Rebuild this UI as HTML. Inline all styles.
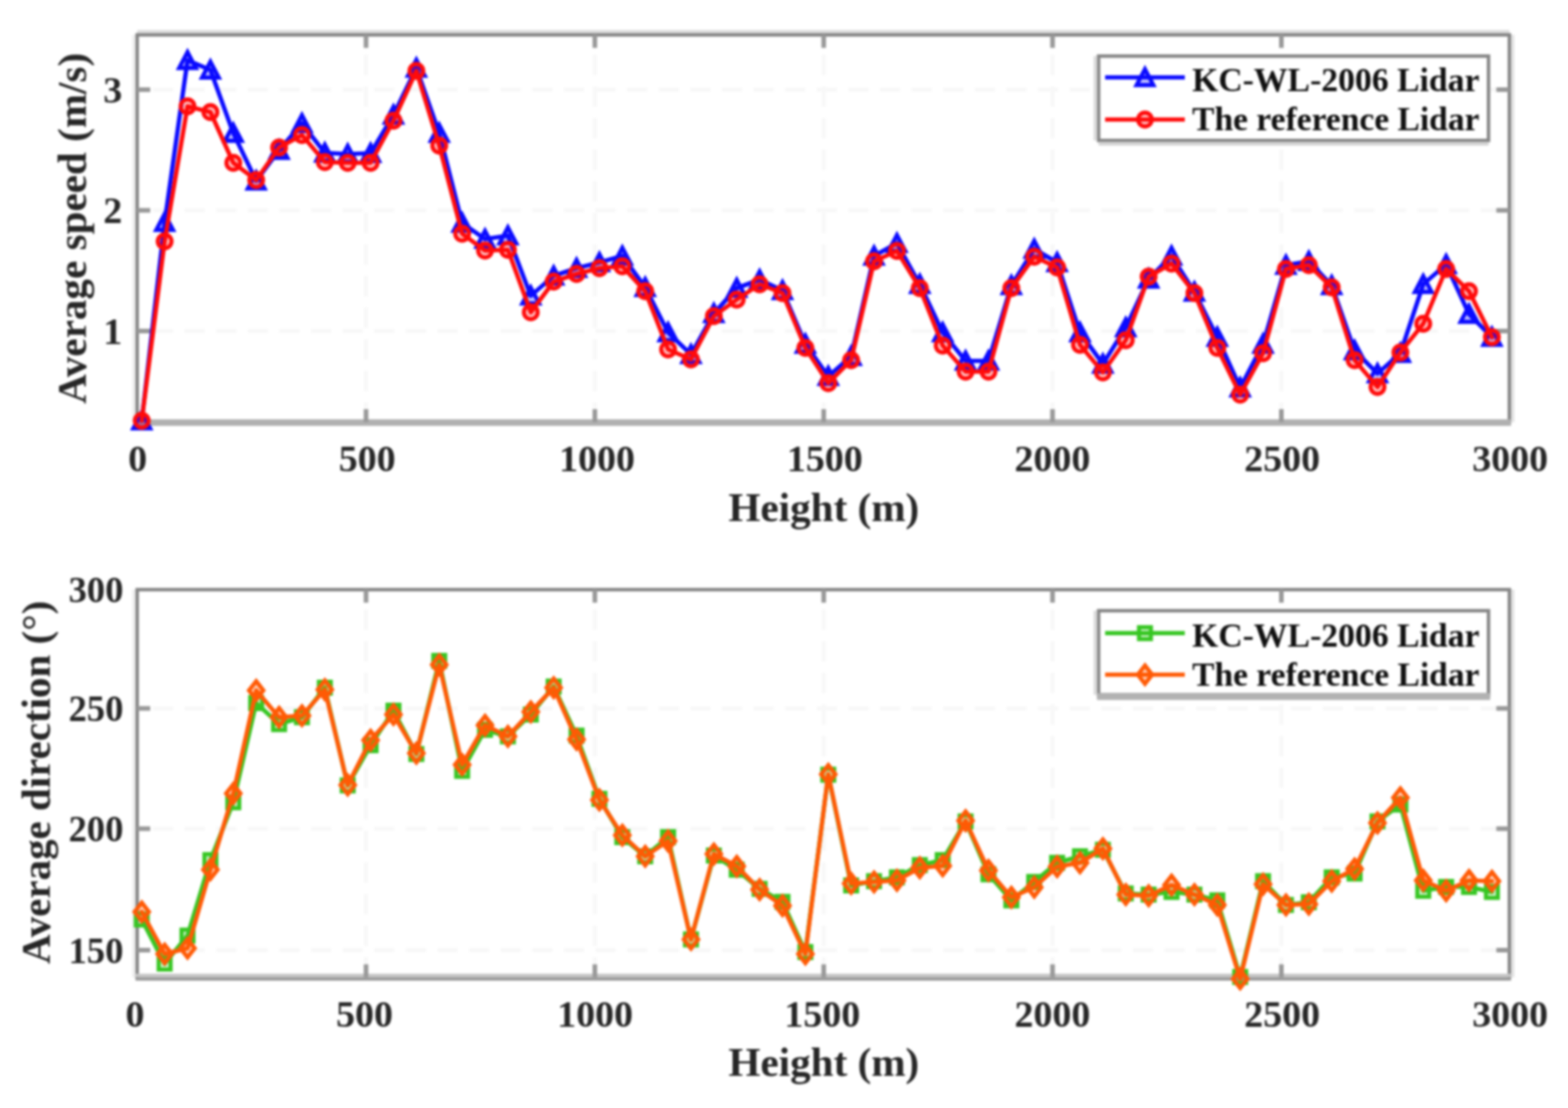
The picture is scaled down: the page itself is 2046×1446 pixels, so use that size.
<!DOCTYPE html>
<html lang="en">
<head>
<meta charset="utf-8">
<title>Average wind speed and direction versus height</title>
<style>
html, body { margin: 0; padding: 0; background: #ffffff; }
body { width: 2046px; height: 1446px; overflow: hidden; font-family: "Liberation Serif", "DejaVu Serif", serif; }
svg { display: block; filter: blur(1.8px); }
text { font-family: "Liberation Serif", "DejaVu Serif", serif; }
</style>
</head>
<body>
<svg width="2046" height="1446" viewBox="0 0 2046 1446" font-family='"Liberation Serif", "DejaVu Serif", serif'>
<rect width="2046" height="1446" fill="#ffffff"/>
<g id="speed-axes">
<line x1="477.6" y1="45.5" x2="477.6" y2="551" stroke="#f8f8f8" stroke-width="5.5" stroke-dasharray="26.5 14.75" stroke-dashoffset="15.2"/>
<line x1="776.2" y1="45.5" x2="776.2" y2="551" stroke="#f8f8f8" stroke-width="5.5" stroke-dasharray="26.5 14.75" stroke-dashoffset="15.2"/>
<line x1="1074.8" y1="45.5" x2="1074.8" y2="551" stroke="#f8f8f8" stroke-width="5.5" stroke-dasharray="26.5 14.75" stroke-dashoffset="15.2"/>
<line x1="1373.4" y1="45.5" x2="1373.4" y2="551" stroke="#f8f8f8" stroke-width="5.5" stroke-dasharray="26.5 14.75" stroke-dashoffset="15.2"/>
<line x1="1672" y1="45.5" x2="1672" y2="551" stroke="#f8f8f8" stroke-width="5.5" stroke-dasharray="26.5 14.75" stroke-dashoffset="15.2"/>
<line x1="179" y1="117" x2="1969.5" y2="117" stroke="#f8f8f8" stroke-width="5.5" stroke-dasharray="26.5 14.75" stroke-dashoffset="20.85"/>
<line x1="179" y1="274.5" x2="1969.5" y2="274.5" stroke="#f8f8f8" stroke-width="5.5" stroke-dasharray="26.5 14.75" stroke-dashoffset="20.85"/>
<line x1="179" y1="432" x2="1969.5" y2="432" stroke="#f8f8f8" stroke-width="5.5" stroke-dasharray="26.5 14.75" stroke-dashoffset="20.85"/>
<line x1="179" y1="41.3" x2="1969.5" y2="41.3" stroke="#dedede" stroke-width="4.5"/>
<line x1="1973.9" y1="45.5" x2="1973.9" y2="551" stroke="#e4e4e4" stroke-width="4.5"/>
<line x1="174.6" y1="45.5" x2="174.6" y2="551" stroke="#efefef" stroke-width="4.5"/>
<line x1="176.8" y1="45.5" x2="1971.7" y2="45.5" stroke="#858585" stroke-width="4.5"/>
<line x1="179" y1="45.5" x2="179" y2="553" stroke="#858585" stroke-width="4.5"/>
<line x1="1969.5" y1="45.5" x2="1969.5" y2="553" stroke="#858585" stroke-width="4.5"/>
<line x1="176.8" y1="551.5" x2="1971.7" y2="551.5" stroke="#b0b0b0" stroke-width="8.5"/>
<line x1="477.6" y1="551" x2="477.6" y2="534" stroke="#989898" stroke-width="6"/>
<line x1="477.6" y1="45.5" x2="477.6" y2="62.5" stroke="#989898" stroke-width="6"/>
<line x1="776.2" y1="551" x2="776.2" y2="534" stroke="#989898" stroke-width="6"/>
<line x1="776.2" y1="45.5" x2="776.2" y2="62.5" stroke="#989898" stroke-width="6"/>
<line x1="1074.8" y1="551" x2="1074.8" y2="534" stroke="#989898" stroke-width="6"/>
<line x1="1074.8" y1="45.5" x2="1074.8" y2="62.5" stroke="#989898" stroke-width="6"/>
<line x1="1373.4" y1="551" x2="1373.4" y2="534" stroke="#989898" stroke-width="6"/>
<line x1="1373.4" y1="45.5" x2="1373.4" y2="62.5" stroke="#989898" stroke-width="6"/>
<line x1="1672" y1="551" x2="1672" y2="534" stroke="#989898" stroke-width="6"/>
<line x1="1672" y1="45.5" x2="1672" y2="62.5" stroke="#989898" stroke-width="6"/>
<line x1="179" y1="117" x2="196" y2="117" stroke="#989898" stroke-width="6"/>
<line x1="1969.5" y1="117" x2="1952.5" y2="117" stroke="#989898" stroke-width="6"/>
<line x1="179" y1="274.5" x2="196" y2="274.5" stroke="#989898" stroke-width="6"/>
<line x1="1969.5" y1="274.5" x2="1952.5" y2="274.5" stroke="#989898" stroke-width="6"/>
<line x1="179" y1="432" x2="196" y2="432" stroke="#989898" stroke-width="6"/>
<line x1="1969.5" y1="432" x2="1952.5" y2="432" stroke="#989898" stroke-width="6"/>
</g>
<g id="speed-series">
<polyline points="184.97,549 214.83,290 244.69,78.75 274.55,91.25 304.41,173.75 334.27,236 364.13,196 393.99,161 423.85,199.5 453.71,201 483.57,200 513.43,150 543.29,88.75 573.15,173.75 603.01,291 632.87,312 662.73,307.5 692.59,386 722.45,360 752.31,350 782.17,342.5 812.03,334 841.89,375 871.75,434 901.61,462.5 931.47,409 961.33,376 991.19,365 1021.05,379 1050.91,449 1080.77,491 1110.63,465 1140.49,334 1170.35,317.5 1200.21,371 1230.07,434 1259.93,471 1289.79,471 1319.65,372.5 1349.51,325 1379.37,342.5 1409.23,434 1439.09,475 1468.95,427.5 1498.81,364 1528.67,334 1558.53,381 1588.39,440 1618.25,506 1648.11,449 1677.97,346 1707.83,341 1737.69,372.5 1767.55,457.5 1797.41,487.5 1827.27,461 1857.13,371 1886.99,345 1916.85,410 1946.71,440" fill="none" stroke="#0a0aff" stroke-width="5.6" stroke-linejoin="round" stroke-linecap="round"/>
<path d="M184.97 538.2L195.97 559L173.97 559Z" fill="#0a0aff" fill-opacity="0.25" stroke="#0a0aff" stroke-width="5.3" stroke-linejoin="miter"/>
<path d="M214.83 279.2L225.83 300L203.83 300Z" fill="#0a0aff" fill-opacity="0.25" stroke="#0a0aff" stroke-width="5.3" stroke-linejoin="miter"/>
<path d="M244.69 67.95L255.69 88.75L233.69 88.75Z" fill="#0a0aff" fill-opacity="0.25" stroke="#0a0aff" stroke-width="5.3" stroke-linejoin="miter"/>
<path d="M274.55 80.45L285.55 101.25L263.55 101.25Z" fill="#0a0aff" fill-opacity="0.25" stroke="#0a0aff" stroke-width="5.3" stroke-linejoin="miter"/>
<path d="M304.41 162.95L315.41 183.75L293.41 183.75Z" fill="#0a0aff" fill-opacity="0.25" stroke="#0a0aff" stroke-width="5.3" stroke-linejoin="miter"/>
<path d="M334.27 225.2L345.27 246L323.27 246Z" fill="#0a0aff" fill-opacity="0.25" stroke="#0a0aff" stroke-width="5.3" stroke-linejoin="miter"/>
<path d="M364.13 185.2L375.13 206L353.13 206Z" fill="#0a0aff" fill-opacity="0.25" stroke="#0a0aff" stroke-width="5.3" stroke-linejoin="miter"/>
<path d="M393.99 150.2L404.99 171L382.99 171Z" fill="#0a0aff" fill-opacity="0.25" stroke="#0a0aff" stroke-width="5.3" stroke-linejoin="miter"/>
<path d="M423.85 188.7L434.85 209.5L412.85 209.5Z" fill="#0a0aff" fill-opacity="0.25" stroke="#0a0aff" stroke-width="5.3" stroke-linejoin="miter"/>
<path d="M453.71 190.2L464.71 211L442.71 211Z" fill="#0a0aff" fill-opacity="0.25" stroke="#0a0aff" stroke-width="5.3" stroke-linejoin="miter"/>
<path d="M483.57 189.2L494.57 210L472.57 210Z" fill="#0a0aff" fill-opacity="0.25" stroke="#0a0aff" stroke-width="5.3" stroke-linejoin="miter"/>
<path d="M513.43 139.2L524.43 160L502.43 160Z" fill="#0a0aff" fill-opacity="0.25" stroke="#0a0aff" stroke-width="5.3" stroke-linejoin="miter"/>
<path d="M543.29 77.95L554.29 98.75L532.29 98.75Z" fill="#0a0aff" fill-opacity="0.25" stroke="#0a0aff" stroke-width="5.3" stroke-linejoin="miter"/>
<path d="M573.15 162.95L584.15 183.75L562.15 183.75Z" fill="#0a0aff" fill-opacity="0.25" stroke="#0a0aff" stroke-width="5.3" stroke-linejoin="miter"/>
<path d="M603.01 280.2L614.01 301L592.01 301Z" fill="#0a0aff" fill-opacity="0.25" stroke="#0a0aff" stroke-width="5.3" stroke-linejoin="miter"/>
<path d="M632.87 301.2L643.87 322L621.87 322Z" fill="#0a0aff" fill-opacity="0.25" stroke="#0a0aff" stroke-width="5.3" stroke-linejoin="miter"/>
<path d="M662.73 296.7L673.73 317.5L651.73 317.5Z" fill="#0a0aff" fill-opacity="0.25" stroke="#0a0aff" stroke-width="5.3" stroke-linejoin="miter"/>
<path d="M692.59 375.2L703.59 396L681.59 396Z" fill="#0a0aff" fill-opacity="0.25" stroke="#0a0aff" stroke-width="5.3" stroke-linejoin="miter"/>
<path d="M722.45 349.2L733.45 370L711.45 370Z" fill="#0a0aff" fill-opacity="0.25" stroke="#0a0aff" stroke-width="5.3" stroke-linejoin="miter"/>
<path d="M752.31 339.2L763.31 360L741.31 360Z" fill="#0a0aff" fill-opacity="0.25" stroke="#0a0aff" stroke-width="5.3" stroke-linejoin="miter"/>
<path d="M782.17 331.7L793.17 352.5L771.17 352.5Z" fill="#0a0aff" fill-opacity="0.25" stroke="#0a0aff" stroke-width="5.3" stroke-linejoin="miter"/>
<path d="M812.03 323.2L823.03 344L801.03 344Z" fill="#0a0aff" fill-opacity="0.25" stroke="#0a0aff" stroke-width="5.3" stroke-linejoin="miter"/>
<path d="M841.89 364.2L852.89 385L830.89 385Z" fill="#0a0aff" fill-opacity="0.25" stroke="#0a0aff" stroke-width="5.3" stroke-linejoin="miter"/>
<path d="M871.75 423.2L882.75 444L860.75 444Z" fill="#0a0aff" fill-opacity="0.25" stroke="#0a0aff" stroke-width="5.3" stroke-linejoin="miter"/>
<path d="M901.61 451.7L912.61 472.5L890.61 472.5Z" fill="#0a0aff" fill-opacity="0.25" stroke="#0a0aff" stroke-width="5.3" stroke-linejoin="miter"/>
<path d="M931.47 398.2L942.47 419L920.47 419Z" fill="#0a0aff" fill-opacity="0.25" stroke="#0a0aff" stroke-width="5.3" stroke-linejoin="miter"/>
<path d="M961.33 365.2L972.33 386L950.33 386Z" fill="#0a0aff" fill-opacity="0.25" stroke="#0a0aff" stroke-width="5.3" stroke-linejoin="miter"/>
<path d="M991.19 354.2L1002.19 375L980.19 375Z" fill="#0a0aff" fill-opacity="0.25" stroke="#0a0aff" stroke-width="5.3" stroke-linejoin="miter"/>
<path d="M1021.05 368.2L1032.05 389L1010.05 389Z" fill="#0a0aff" fill-opacity="0.25" stroke="#0a0aff" stroke-width="5.3" stroke-linejoin="miter"/>
<path d="M1050.91 438.2L1061.91 459L1039.91 459Z" fill="#0a0aff" fill-opacity="0.25" stroke="#0a0aff" stroke-width="5.3" stroke-linejoin="miter"/>
<path d="M1080.77 480.2L1091.77 501L1069.77 501Z" fill="#0a0aff" fill-opacity="0.25" stroke="#0a0aff" stroke-width="5.3" stroke-linejoin="miter"/>
<path d="M1110.63 454.2L1121.63 475L1099.63 475Z" fill="#0a0aff" fill-opacity="0.25" stroke="#0a0aff" stroke-width="5.3" stroke-linejoin="miter"/>
<path d="M1140.49 323.2L1151.49 344L1129.49 344Z" fill="#0a0aff" fill-opacity="0.25" stroke="#0a0aff" stroke-width="5.3" stroke-linejoin="miter"/>
<path d="M1170.35 306.7L1181.35 327.5L1159.35 327.5Z" fill="#0a0aff" fill-opacity="0.25" stroke="#0a0aff" stroke-width="5.3" stroke-linejoin="miter"/>
<path d="M1200.21 360.2L1211.21 381L1189.21 381Z" fill="#0a0aff" fill-opacity="0.25" stroke="#0a0aff" stroke-width="5.3" stroke-linejoin="miter"/>
<path d="M1230.07 423.2L1241.07 444L1219.07 444Z" fill="#0a0aff" fill-opacity="0.25" stroke="#0a0aff" stroke-width="5.3" stroke-linejoin="miter"/>
<path d="M1259.93 460.2L1270.93 481L1248.93 481Z" fill="#0a0aff" fill-opacity="0.25" stroke="#0a0aff" stroke-width="5.3" stroke-linejoin="miter"/>
<path d="M1289.79 460.2L1300.79 481L1278.79 481Z" fill="#0a0aff" fill-opacity="0.25" stroke="#0a0aff" stroke-width="5.3" stroke-linejoin="miter"/>
<path d="M1319.65 361.7L1330.65 382.5L1308.65 382.5Z" fill="#0a0aff" fill-opacity="0.25" stroke="#0a0aff" stroke-width="5.3" stroke-linejoin="miter"/>
<path d="M1349.51 314.2L1360.51 335L1338.51 335Z" fill="#0a0aff" fill-opacity="0.25" stroke="#0a0aff" stroke-width="5.3" stroke-linejoin="miter"/>
<path d="M1379.37 331.7L1390.37 352.5L1368.37 352.5Z" fill="#0a0aff" fill-opacity="0.25" stroke="#0a0aff" stroke-width="5.3" stroke-linejoin="miter"/>
<path d="M1409.23 423.2L1420.23 444L1398.23 444Z" fill="#0a0aff" fill-opacity="0.25" stroke="#0a0aff" stroke-width="5.3" stroke-linejoin="miter"/>
<path d="M1439.09 464.2L1450.09 485L1428.09 485Z" fill="#0a0aff" fill-opacity="0.25" stroke="#0a0aff" stroke-width="5.3" stroke-linejoin="miter"/>
<path d="M1468.95 416.7L1479.95 437.5L1457.95 437.5Z" fill="#0a0aff" fill-opacity="0.25" stroke="#0a0aff" stroke-width="5.3" stroke-linejoin="miter"/>
<path d="M1498.81 353.2L1509.81 374L1487.81 374Z" fill="#0a0aff" fill-opacity="0.25" stroke="#0a0aff" stroke-width="5.3" stroke-linejoin="miter"/>
<path d="M1528.67 323.2L1539.67 344L1517.67 344Z" fill="#0a0aff" fill-opacity="0.25" stroke="#0a0aff" stroke-width="5.3" stroke-linejoin="miter"/>
<path d="M1558.53 370.2L1569.53 391L1547.53 391Z" fill="#0a0aff" fill-opacity="0.25" stroke="#0a0aff" stroke-width="5.3" stroke-linejoin="miter"/>
<path d="M1588.39 429.2L1599.39 450L1577.39 450Z" fill="#0a0aff" fill-opacity="0.25" stroke="#0a0aff" stroke-width="5.3" stroke-linejoin="miter"/>
<path d="M1618.25 495.2L1629.25 516L1607.25 516Z" fill="#0a0aff" fill-opacity="0.25" stroke="#0a0aff" stroke-width="5.3" stroke-linejoin="miter"/>
<path d="M1648.11 438.2L1659.11 459L1637.11 459Z" fill="#0a0aff" fill-opacity="0.25" stroke="#0a0aff" stroke-width="5.3" stroke-linejoin="miter"/>
<path d="M1677.97 335.2L1688.97 356L1666.97 356Z" fill="#0a0aff" fill-opacity="0.25" stroke="#0a0aff" stroke-width="5.3" stroke-linejoin="miter"/>
<path d="M1707.83 330.2L1718.83 351L1696.83 351Z" fill="#0a0aff" fill-opacity="0.25" stroke="#0a0aff" stroke-width="5.3" stroke-linejoin="miter"/>
<path d="M1737.69 361.7L1748.69 382.5L1726.69 382.5Z" fill="#0a0aff" fill-opacity="0.25" stroke="#0a0aff" stroke-width="5.3" stroke-linejoin="miter"/>
<path d="M1767.55 446.7L1778.55 467.5L1756.55 467.5Z" fill="#0a0aff" fill-opacity="0.25" stroke="#0a0aff" stroke-width="5.3" stroke-linejoin="miter"/>
<path d="M1797.41 476.7L1808.41 497.5L1786.41 497.5Z" fill="#0a0aff" fill-opacity="0.25" stroke="#0a0aff" stroke-width="5.3" stroke-linejoin="miter"/>
<path d="M1827.27 450.2L1838.27 471L1816.27 471Z" fill="#0a0aff" fill-opacity="0.25" stroke="#0a0aff" stroke-width="5.3" stroke-linejoin="miter"/>
<path d="M1857.13 360.2L1868.13 381L1846.13 381Z" fill="#0a0aff" fill-opacity="0.25" stroke="#0a0aff" stroke-width="5.3" stroke-linejoin="miter"/>
<path d="M1886.99 334.2L1897.99 355L1875.99 355Z" fill="#0a0aff" fill-opacity="0.25" stroke="#0a0aff" stroke-width="5.3" stroke-linejoin="miter"/>
<path d="M1916.85 399.2L1927.85 420L1905.85 420Z" fill="#0a0aff" fill-opacity="0.25" stroke="#0a0aff" stroke-width="5.3" stroke-linejoin="miter"/>
<path d="M1946.71 429.2L1957.71 450L1935.71 450Z" fill="#0a0aff" fill-opacity="0.25" stroke="#0a0aff" stroke-width="5.3" stroke-linejoin="miter"/>
<polyline points="184.97,549 214.83,315 244.69,138.75 274.55,146.25 304.41,212.5 334.27,235 364.13,192.5 393.99,176.25 423.85,211.5 453.71,212.5 483.57,212.5 513.43,157.5 543.29,92.5 573.15,190 603.01,305 632.87,327 662.73,326 692.59,407.5 722.45,367.5 752.31,357.5 782.17,350 812.03,347.5 841.89,380 871.75,456 901.61,469 931.47,412.5 961.33,391 991.19,371 1021.05,382.5 1050.91,454 1080.77,500 1110.63,470 1140.49,341 1170.35,327.5 1200.21,376 1230.07,451 1259.93,485 1289.79,485 1319.65,376 1349.51,335 1379.37,349 1409.23,450 1439.09,486 1468.95,444 1498.81,361 1528.67,344 1558.53,382.5 1588.39,454 1618.25,515 1648.11,461 1677.97,351 1707.83,346 1737.69,375 1767.55,470 1797.41,505 1827.27,460 1857.13,422.5 1886.99,351 1916.85,380 1946.71,440" fill="none" stroke="#ff0a0a" stroke-width="5.6" stroke-linejoin="round" stroke-linecap="round"/>
<circle cx="184.97" cy="549" r="9" fill="#ff0a0a" fill-opacity="0.25" stroke="#ff0a0a" stroke-width="5.3"/>
<circle cx="214.83" cy="315" r="9" fill="#ff0a0a" fill-opacity="0.25" stroke="#ff0a0a" stroke-width="5.3"/>
<circle cx="244.69" cy="138.75" r="9" fill="#ff0a0a" fill-opacity="0.25" stroke="#ff0a0a" stroke-width="5.3"/>
<circle cx="274.55" cy="146.25" r="9" fill="#ff0a0a" fill-opacity="0.25" stroke="#ff0a0a" stroke-width="5.3"/>
<circle cx="304.41" cy="212.5" r="9" fill="#ff0a0a" fill-opacity="0.25" stroke="#ff0a0a" stroke-width="5.3"/>
<circle cx="334.27" cy="235" r="9" fill="#ff0a0a" fill-opacity="0.25" stroke="#ff0a0a" stroke-width="5.3"/>
<circle cx="364.13" cy="192.5" r="9" fill="#ff0a0a" fill-opacity="0.25" stroke="#ff0a0a" stroke-width="5.3"/>
<circle cx="393.99" cy="176.25" r="9" fill="#ff0a0a" fill-opacity="0.25" stroke="#ff0a0a" stroke-width="5.3"/>
<circle cx="423.85" cy="211.5" r="9" fill="#ff0a0a" fill-opacity="0.25" stroke="#ff0a0a" stroke-width="5.3"/>
<circle cx="453.71" cy="212.5" r="9" fill="#ff0a0a" fill-opacity="0.25" stroke="#ff0a0a" stroke-width="5.3"/>
<circle cx="483.57" cy="212.5" r="9" fill="#ff0a0a" fill-opacity="0.25" stroke="#ff0a0a" stroke-width="5.3"/>
<circle cx="513.43" cy="157.5" r="9" fill="#ff0a0a" fill-opacity="0.25" stroke="#ff0a0a" stroke-width="5.3"/>
<circle cx="543.29" cy="92.5" r="9" fill="#ff0a0a" fill-opacity="0.25" stroke="#ff0a0a" stroke-width="5.3"/>
<circle cx="573.15" cy="190" r="9" fill="#ff0a0a" fill-opacity="0.25" stroke="#ff0a0a" stroke-width="5.3"/>
<circle cx="603.01" cy="305" r="9" fill="#ff0a0a" fill-opacity="0.25" stroke="#ff0a0a" stroke-width="5.3"/>
<circle cx="632.87" cy="327" r="9" fill="#ff0a0a" fill-opacity="0.25" stroke="#ff0a0a" stroke-width="5.3"/>
<circle cx="662.73" cy="326" r="9" fill="#ff0a0a" fill-opacity="0.25" stroke="#ff0a0a" stroke-width="5.3"/>
<circle cx="692.59" cy="407.5" r="9" fill="#ff0a0a" fill-opacity="0.25" stroke="#ff0a0a" stroke-width="5.3"/>
<circle cx="722.45" cy="367.5" r="9" fill="#ff0a0a" fill-opacity="0.25" stroke="#ff0a0a" stroke-width="5.3"/>
<circle cx="752.31" cy="357.5" r="9" fill="#ff0a0a" fill-opacity="0.25" stroke="#ff0a0a" stroke-width="5.3"/>
<circle cx="782.17" cy="350" r="9" fill="#ff0a0a" fill-opacity="0.25" stroke="#ff0a0a" stroke-width="5.3"/>
<circle cx="812.03" cy="347.5" r="9" fill="#ff0a0a" fill-opacity="0.25" stroke="#ff0a0a" stroke-width="5.3"/>
<circle cx="841.89" cy="380" r="9" fill="#ff0a0a" fill-opacity="0.25" stroke="#ff0a0a" stroke-width="5.3"/>
<circle cx="871.75" cy="456" r="9" fill="#ff0a0a" fill-opacity="0.25" stroke="#ff0a0a" stroke-width="5.3"/>
<circle cx="901.61" cy="469" r="9" fill="#ff0a0a" fill-opacity="0.25" stroke="#ff0a0a" stroke-width="5.3"/>
<circle cx="931.47" cy="412.5" r="9" fill="#ff0a0a" fill-opacity="0.25" stroke="#ff0a0a" stroke-width="5.3"/>
<circle cx="961.33" cy="391" r="9" fill="#ff0a0a" fill-opacity="0.25" stroke="#ff0a0a" stroke-width="5.3"/>
<circle cx="991.19" cy="371" r="9" fill="#ff0a0a" fill-opacity="0.25" stroke="#ff0a0a" stroke-width="5.3"/>
<circle cx="1021.05" cy="382.5" r="9" fill="#ff0a0a" fill-opacity="0.25" stroke="#ff0a0a" stroke-width="5.3"/>
<circle cx="1050.91" cy="454" r="9" fill="#ff0a0a" fill-opacity="0.25" stroke="#ff0a0a" stroke-width="5.3"/>
<circle cx="1080.77" cy="500" r="9" fill="#ff0a0a" fill-opacity="0.25" stroke="#ff0a0a" stroke-width="5.3"/>
<circle cx="1110.63" cy="470" r="9" fill="#ff0a0a" fill-opacity="0.25" stroke="#ff0a0a" stroke-width="5.3"/>
<circle cx="1140.49" cy="341" r="9" fill="#ff0a0a" fill-opacity="0.25" stroke="#ff0a0a" stroke-width="5.3"/>
<circle cx="1170.35" cy="327.5" r="9" fill="#ff0a0a" fill-opacity="0.25" stroke="#ff0a0a" stroke-width="5.3"/>
<circle cx="1200.21" cy="376" r="9" fill="#ff0a0a" fill-opacity="0.25" stroke="#ff0a0a" stroke-width="5.3"/>
<circle cx="1230.07" cy="451" r="9" fill="#ff0a0a" fill-opacity="0.25" stroke="#ff0a0a" stroke-width="5.3"/>
<circle cx="1259.93" cy="485" r="9" fill="#ff0a0a" fill-opacity="0.25" stroke="#ff0a0a" stroke-width="5.3"/>
<circle cx="1289.79" cy="485" r="9" fill="#ff0a0a" fill-opacity="0.25" stroke="#ff0a0a" stroke-width="5.3"/>
<circle cx="1319.65" cy="376" r="9" fill="#ff0a0a" fill-opacity="0.25" stroke="#ff0a0a" stroke-width="5.3"/>
<circle cx="1349.51" cy="335" r="9" fill="#ff0a0a" fill-opacity="0.25" stroke="#ff0a0a" stroke-width="5.3"/>
<circle cx="1379.37" cy="349" r="9" fill="#ff0a0a" fill-opacity="0.25" stroke="#ff0a0a" stroke-width="5.3"/>
<circle cx="1409.23" cy="450" r="9" fill="#ff0a0a" fill-opacity="0.25" stroke="#ff0a0a" stroke-width="5.3"/>
<circle cx="1439.09" cy="486" r="9" fill="#ff0a0a" fill-opacity="0.25" stroke="#ff0a0a" stroke-width="5.3"/>
<circle cx="1468.95" cy="444" r="9" fill="#ff0a0a" fill-opacity="0.25" stroke="#ff0a0a" stroke-width="5.3"/>
<circle cx="1498.81" cy="361" r="9" fill="#ff0a0a" fill-opacity="0.25" stroke="#ff0a0a" stroke-width="5.3"/>
<circle cx="1528.67" cy="344" r="9" fill="#ff0a0a" fill-opacity="0.25" stroke="#ff0a0a" stroke-width="5.3"/>
<circle cx="1558.53" cy="382.5" r="9" fill="#ff0a0a" fill-opacity="0.25" stroke="#ff0a0a" stroke-width="5.3"/>
<circle cx="1588.39" cy="454" r="9" fill="#ff0a0a" fill-opacity="0.25" stroke="#ff0a0a" stroke-width="5.3"/>
<circle cx="1618.25" cy="515" r="9" fill="#ff0a0a" fill-opacity="0.25" stroke="#ff0a0a" stroke-width="5.3"/>
<circle cx="1648.11" cy="461" r="9" fill="#ff0a0a" fill-opacity="0.25" stroke="#ff0a0a" stroke-width="5.3"/>
<circle cx="1677.97" cy="351" r="9" fill="#ff0a0a" fill-opacity="0.25" stroke="#ff0a0a" stroke-width="5.3"/>
<circle cx="1707.83" cy="346" r="9" fill="#ff0a0a" fill-opacity="0.25" stroke="#ff0a0a" stroke-width="5.3"/>
<circle cx="1737.69" cy="375" r="9" fill="#ff0a0a" fill-opacity="0.25" stroke="#ff0a0a" stroke-width="5.3"/>
<circle cx="1767.55" cy="470" r="9" fill="#ff0a0a" fill-opacity="0.25" stroke="#ff0a0a" stroke-width="5.3"/>
<circle cx="1797.41" cy="505" r="9" fill="#ff0a0a" fill-opacity="0.25" stroke="#ff0a0a" stroke-width="5.3"/>
<circle cx="1827.27" cy="460" r="9" fill="#ff0a0a" fill-opacity="0.25" stroke="#ff0a0a" stroke-width="5.3"/>
<circle cx="1857.13" cy="422.5" r="9" fill="#ff0a0a" fill-opacity="0.25" stroke="#ff0a0a" stroke-width="5.3"/>
<circle cx="1886.99" cy="351" r="9" fill="#ff0a0a" fill-opacity="0.25" stroke="#ff0a0a" stroke-width="5.3"/>
<circle cx="1916.85" cy="380" r="9" fill="#ff0a0a" fill-opacity="0.25" stroke="#ff0a0a" stroke-width="5.3"/>
<circle cx="1946.71" cy="440" r="9" fill="#ff0a0a" fill-opacity="0.25" stroke="#ff0a0a" stroke-width="5.3"/>
</g>
<g id="speed-legend">
<rect x="1433.5" y="73.2" width="508.79999999999995" height="110.1" fill="#ffffff" stroke="#858585" stroke-width="4.5"/>
<line x1="1433.5" y1="187.7" x2="1942.3" y2="187.7" stroke="#d4d4d4" stroke-width="4.5"/>
<line x1="1429.1" y1="73.2" x2="1429.1" y2="183.3" stroke="#dcdcdc" stroke-width="4.5"/>
<line x1="1442" y1="101" x2="1546" y2="101" stroke="#0a0aff" stroke-width="5.6"/>
<path d="M1494 90.2L1505 111L1483 111Z" fill="#0a0aff" fill-opacity="0.25" stroke="#0a0aff" stroke-width="5.3" stroke-linejoin="miter"/>
<line x1="1442" y1="156" x2="1546" y2="156" stroke="#ff0a0a" stroke-width="5.6"/>
<circle cx="1494" cy="156" r="9" fill="#ff0a0a" fill-opacity="0.25" stroke="#ff0a0a" stroke-width="5.3"/>
<g font-weight="bold" fill="#101010">
<text x="1555.5" y="118.5" font-size="44" text-anchor="start" textLength="375" lengthAdjust="spacingAndGlyphs">KC-WL-2006 Lidar</text>
<text x="1555.5" y="169.5" font-size="44" text-anchor="start" textLength="375" lengthAdjust="spacingAndGlyphs">The reference Lidar</text>
</g>
</g>
<g id="speed-labels" font-weight="bold" fill="#262626">
<text x="179.6" y="615" font-size="49.5" text-anchor="middle">0</text>
<text x="479" y="615" font-size="49.5" text-anchor="middle">500</text>
<text x="779" y="615" font-size="49.5" text-anchor="middle">1000</text>
<text x="1076.2" y="615" font-size="49.5" text-anchor="middle">1500</text>
<text x="1373.2" y="615" font-size="49.5" text-anchor="middle">2000</text>
<text x="1673" y="615" font-size="49.5" text-anchor="middle">2500</text>
<text x="1970.5" y="615" font-size="49.5" text-anchor="middle">3000</text>
<text x="159.5" y="133.5" font-size="49.5" text-anchor="end">3</text>
<text x="159.5" y="291" font-size="49.5" text-anchor="end">2</text>
<text x="159.5" y="448.5" font-size="49.5" text-anchor="end">1</text>
<text x="1075" y="679.7" font-size="52" text-anchor="middle" textLength="249" lengthAdjust="spacingAndGlyphs">Height (m)</text>
<text transform="translate(112 298) rotate(-90)" font-size="52" text-anchor="middle" textLength="458" lengthAdjust="spacingAndGlyphs">Average speed (m/s)</text>
</g>
<g id="dir-axes">
<line x1="477.6" y1="769.5" x2="477.6" y2="1275.5" stroke="#f8f8f8" stroke-width="5.5" stroke-dasharray="26.5 14.75" stroke-dashoffset="15.2"/>
<line x1="776.2" y1="769.5" x2="776.2" y2="1275.5" stroke="#f8f8f8" stroke-width="5.5" stroke-dasharray="26.5 14.75" stroke-dashoffset="15.2"/>
<line x1="1074.8" y1="769.5" x2="1074.8" y2="1275.5" stroke="#f8f8f8" stroke-width="5.5" stroke-dasharray="26.5 14.75" stroke-dashoffset="15.2"/>
<line x1="1373.4" y1="769.5" x2="1373.4" y2="1275.5" stroke="#f8f8f8" stroke-width="5.5" stroke-dasharray="26.5 14.75" stroke-dashoffset="15.2"/>
<line x1="1672" y1="769.5" x2="1672" y2="1275.5" stroke="#f8f8f8" stroke-width="5.5" stroke-dasharray="26.5 14.75" stroke-dashoffset="15.2"/>
<line x1="179" y1="924.5" x2="1969.5" y2="924.5" stroke="#f8f8f8" stroke-width="5.5" stroke-dasharray="26.5 14.75" stroke-dashoffset="20.85"/>
<line x1="179" y1="1081.5" x2="1969.5" y2="1081.5" stroke="#f8f8f8" stroke-width="5.5" stroke-dasharray="26.5 14.75" stroke-dashoffset="20.85"/>
<line x1="179" y1="1240" x2="1969.5" y2="1240" stroke="#f8f8f8" stroke-width="5.5" stroke-dasharray="26.5 14.75" stroke-dashoffset="20.85"/>
<line x1="1973.9" y1="769.5" x2="1973.9" y2="1275.5" stroke="#e4e4e4" stroke-width="4.5"/>
<line x1="174.6" y1="769.5" x2="174.6" y2="1275.5" stroke="#efefef" stroke-width="4.5"/>
<line x1="176.8" y1="769.5" x2="1971.7" y2="769.5" stroke="#858585" stroke-width="4.5"/>
<line x1="179" y1="769.5" x2="179" y2="1277.5" stroke="#858585" stroke-width="4.5"/>
<line x1="1969.5" y1="769.5" x2="1969.5" y2="1277.5" stroke="#858585" stroke-width="4.5"/>
<line x1="176.8" y1="1273.1" x2="1971.7" y2="1273.1" stroke="#c6c6c6" stroke-width="4.5"/>
<line x1="176.8" y1="1277.6" x2="1971.7" y2="1277.6" stroke="#9a9a9a" stroke-width="4.5"/>
<line x1="477.6" y1="1275.5" x2="477.6" y2="1258.5" stroke="#989898" stroke-width="6"/>
<line x1="477.6" y1="769.5" x2="477.6" y2="786.5" stroke="#989898" stroke-width="6"/>
<line x1="776.2" y1="1275.5" x2="776.2" y2="1258.5" stroke="#989898" stroke-width="6"/>
<line x1="776.2" y1="769.5" x2="776.2" y2="786.5" stroke="#989898" stroke-width="6"/>
<line x1="1074.8" y1="1275.5" x2="1074.8" y2="1258.5" stroke="#989898" stroke-width="6"/>
<line x1="1074.8" y1="769.5" x2="1074.8" y2="786.5" stroke="#989898" stroke-width="6"/>
<line x1="1373.4" y1="1275.5" x2="1373.4" y2="1258.5" stroke="#989898" stroke-width="6"/>
<line x1="1373.4" y1="769.5" x2="1373.4" y2="786.5" stroke="#989898" stroke-width="6"/>
<line x1="1672" y1="1275.5" x2="1672" y2="1258.5" stroke="#989898" stroke-width="6"/>
<line x1="1672" y1="769.5" x2="1672" y2="786.5" stroke="#989898" stroke-width="6"/>
<line x1="179" y1="924.5" x2="196" y2="924.5" stroke="#989898" stroke-width="6"/>
<line x1="1969.5" y1="924.5" x2="1952.5" y2="924.5" stroke="#989898" stroke-width="6"/>
<line x1="179" y1="1081.5" x2="196" y2="1081.5" stroke="#989898" stroke-width="6"/>
<line x1="1969.5" y1="1081.5" x2="1952.5" y2="1081.5" stroke="#989898" stroke-width="6"/>
<line x1="179" y1="1240" x2="196" y2="1240" stroke="#989898" stroke-width="6"/>
<line x1="1969.5" y1="1240" x2="1952.5" y2="1240" stroke="#989898" stroke-width="6"/>
</g>
<g id="dir-series">
<polyline points="184.97,1200 214.83,1257.5 244.69,1221 274.55,1122.5 304.41,1047 334.27,917.5 364.13,945 393.99,936 423.85,897.5 453.71,1025 483.57,972.5 513.43,927.5 543.29,984 573.15,862.5 603.01,1006 632.87,952.5 662.73,961 692.59,932.5 722.45,896 752.31,960 782.17,1042.5 812.03,1092.5 841.89,1117.5 871.75,1092.5 901.61,1226 931.47,1116.5 961.33,1135 991.19,1160 1021.05,1177 1050.91,1242.5 1080.77,1011 1110.63,1155.5 1140.49,1150 1170.35,1145 1200.21,1129 1230.07,1122.5 1259.93,1072 1289.79,1141 1319.65,1175 1349.51,1151 1379.37,1126 1409.23,1117.5 1439.09,1109 1468.95,1166 1498.81,1167.5 1528.67,1164 1558.53,1167.5 1588.39,1175 1618.25,1275 1648.11,1150 1677.97,1181 1707.83,1177.5 1737.69,1145 1767.55,1140 1797.41,1072 1827.27,1050 1857.13,1162.5 1886.99,1157.5 1916.85,1157.5 1946.71,1164" fill="none" stroke="#36c622" stroke-width="5.6" stroke-linejoin="round" stroke-linecap="round"/>
<rect x="177.17" y="1192.2" width="15.6" height="15.6" fill="#36c622" fill-opacity="0.25" stroke="#36c622" stroke-width="5.3"/>
<rect x="207.03" y="1249.7" width="15.6" height="15.6" fill="#36c622" fill-opacity="0.25" stroke="#36c622" stroke-width="5.3"/>
<rect x="236.89" y="1213.2" width="15.6" height="15.6" fill="#36c622" fill-opacity="0.25" stroke="#36c622" stroke-width="5.3"/>
<rect x="266.75" y="1114.7" width="15.6" height="15.6" fill="#36c622" fill-opacity="0.25" stroke="#36c622" stroke-width="5.3"/>
<rect x="296.61" y="1039.2" width="15.6" height="15.6" fill="#36c622" fill-opacity="0.25" stroke="#36c622" stroke-width="5.3"/>
<rect x="326.47" y="909.7" width="15.6" height="15.6" fill="#36c622" fill-opacity="0.25" stroke="#36c622" stroke-width="5.3"/>
<rect x="356.33" y="937.2" width="15.6" height="15.6" fill="#36c622" fill-opacity="0.25" stroke="#36c622" stroke-width="5.3"/>
<rect x="386.19" y="928.2" width="15.6" height="15.6" fill="#36c622" fill-opacity="0.25" stroke="#36c622" stroke-width="5.3"/>
<rect x="416.05" y="889.7" width="15.6" height="15.6" fill="#36c622" fill-opacity="0.25" stroke="#36c622" stroke-width="5.3"/>
<rect x="445.91" y="1017.2" width="15.6" height="15.6" fill="#36c622" fill-opacity="0.25" stroke="#36c622" stroke-width="5.3"/>
<rect x="475.77" y="964.7" width="15.6" height="15.6" fill="#36c622" fill-opacity="0.25" stroke="#36c622" stroke-width="5.3"/>
<rect x="505.63" y="919.7" width="15.6" height="15.6" fill="#36c622" fill-opacity="0.25" stroke="#36c622" stroke-width="5.3"/>
<rect x="535.49" y="976.2" width="15.6" height="15.6" fill="#36c622" fill-opacity="0.25" stroke="#36c622" stroke-width="5.3"/>
<rect x="565.35" y="854.7" width="15.6" height="15.6" fill="#36c622" fill-opacity="0.25" stroke="#36c622" stroke-width="5.3"/>
<rect x="595.21" y="998.2" width="15.6" height="15.6" fill="#36c622" fill-opacity="0.25" stroke="#36c622" stroke-width="5.3"/>
<rect x="625.07" y="944.7" width="15.6" height="15.6" fill="#36c622" fill-opacity="0.25" stroke="#36c622" stroke-width="5.3"/>
<rect x="654.93" y="953.2" width="15.6" height="15.6" fill="#36c622" fill-opacity="0.25" stroke="#36c622" stroke-width="5.3"/>
<rect x="684.79" y="924.7" width="15.6" height="15.6" fill="#36c622" fill-opacity="0.25" stroke="#36c622" stroke-width="5.3"/>
<rect x="714.65" y="888.2" width="15.6" height="15.6" fill="#36c622" fill-opacity="0.25" stroke="#36c622" stroke-width="5.3"/>
<rect x="744.51" y="952.2" width="15.6" height="15.6" fill="#36c622" fill-opacity="0.25" stroke="#36c622" stroke-width="5.3"/>
<rect x="774.37" y="1034.7" width="15.6" height="15.6" fill="#36c622" fill-opacity="0.25" stroke="#36c622" stroke-width="5.3"/>
<rect x="804.23" y="1084.7" width="15.6" height="15.6" fill="#36c622" fill-opacity="0.25" stroke="#36c622" stroke-width="5.3"/>
<rect x="834.09" y="1109.7" width="15.6" height="15.6" fill="#36c622" fill-opacity="0.25" stroke="#36c622" stroke-width="5.3"/>
<rect x="863.95" y="1084.7" width="15.6" height="15.6" fill="#36c622" fill-opacity="0.25" stroke="#36c622" stroke-width="5.3"/>
<rect x="893.81" y="1218.2" width="15.6" height="15.6" fill="#36c622" fill-opacity="0.25" stroke="#36c622" stroke-width="5.3"/>
<rect x="923.67" y="1108.7" width="15.6" height="15.6" fill="#36c622" fill-opacity="0.25" stroke="#36c622" stroke-width="5.3"/>
<rect x="953.53" y="1127.2" width="15.6" height="15.6" fill="#36c622" fill-opacity="0.25" stroke="#36c622" stroke-width="5.3"/>
<rect x="983.39" y="1152.2" width="15.6" height="15.6" fill="#36c622" fill-opacity="0.25" stroke="#36c622" stroke-width="5.3"/>
<rect x="1013.25" y="1169.2" width="15.6" height="15.6" fill="#36c622" fill-opacity="0.25" stroke="#36c622" stroke-width="5.3"/>
<rect x="1043.11" y="1234.7" width="15.6" height="15.6" fill="#36c622" fill-opacity="0.25" stroke="#36c622" stroke-width="5.3"/>
<rect x="1072.97" y="1003.2" width="15.6" height="15.6" fill="#36c622" fill-opacity="0.25" stroke="#36c622" stroke-width="5.3"/>
<rect x="1102.83" y="1147.7" width="15.6" height="15.6" fill="#36c622" fill-opacity="0.25" stroke="#36c622" stroke-width="5.3"/>
<rect x="1132.69" y="1142.2" width="15.6" height="15.6" fill="#36c622" fill-opacity="0.25" stroke="#36c622" stroke-width="5.3"/>
<rect x="1162.55" y="1137.2" width="15.6" height="15.6" fill="#36c622" fill-opacity="0.25" stroke="#36c622" stroke-width="5.3"/>
<rect x="1192.41" y="1121.2" width="15.6" height="15.6" fill="#36c622" fill-opacity="0.25" stroke="#36c622" stroke-width="5.3"/>
<rect x="1222.27" y="1114.7" width="15.6" height="15.6" fill="#36c622" fill-opacity="0.25" stroke="#36c622" stroke-width="5.3"/>
<rect x="1252.13" y="1064.2" width="15.6" height="15.6" fill="#36c622" fill-opacity="0.25" stroke="#36c622" stroke-width="5.3"/>
<rect x="1281.99" y="1133.2" width="15.6" height="15.6" fill="#36c622" fill-opacity="0.25" stroke="#36c622" stroke-width="5.3"/>
<rect x="1311.85" y="1167.2" width="15.6" height="15.6" fill="#36c622" fill-opacity="0.25" stroke="#36c622" stroke-width="5.3"/>
<rect x="1341.71" y="1143.2" width="15.6" height="15.6" fill="#36c622" fill-opacity="0.25" stroke="#36c622" stroke-width="5.3"/>
<rect x="1371.57" y="1118.2" width="15.6" height="15.6" fill="#36c622" fill-opacity="0.25" stroke="#36c622" stroke-width="5.3"/>
<rect x="1401.43" y="1109.7" width="15.6" height="15.6" fill="#36c622" fill-opacity="0.25" stroke="#36c622" stroke-width="5.3"/>
<rect x="1431.29" y="1101.2" width="15.6" height="15.6" fill="#36c622" fill-opacity="0.25" stroke="#36c622" stroke-width="5.3"/>
<rect x="1461.15" y="1158.2" width="15.6" height="15.6" fill="#36c622" fill-opacity="0.25" stroke="#36c622" stroke-width="5.3"/>
<rect x="1491.01" y="1159.7" width="15.6" height="15.6" fill="#36c622" fill-opacity="0.25" stroke="#36c622" stroke-width="5.3"/>
<rect x="1520.87" y="1156.2" width="15.6" height="15.6" fill="#36c622" fill-opacity="0.25" stroke="#36c622" stroke-width="5.3"/>
<rect x="1550.73" y="1159.7" width="15.6" height="15.6" fill="#36c622" fill-opacity="0.25" stroke="#36c622" stroke-width="5.3"/>
<rect x="1580.59" y="1167.2" width="15.6" height="15.6" fill="#36c622" fill-opacity="0.25" stroke="#36c622" stroke-width="5.3"/>
<rect x="1610.45" y="1267.2" width="15.6" height="15.6" fill="#36c622" fill-opacity="0.25" stroke="#36c622" stroke-width="5.3"/>
<rect x="1640.31" y="1142.2" width="15.6" height="15.6" fill="#36c622" fill-opacity="0.25" stroke="#36c622" stroke-width="5.3"/>
<rect x="1670.17" y="1173.2" width="15.6" height="15.6" fill="#36c622" fill-opacity="0.25" stroke="#36c622" stroke-width="5.3"/>
<rect x="1700.03" y="1169.7" width="15.6" height="15.6" fill="#36c622" fill-opacity="0.25" stroke="#36c622" stroke-width="5.3"/>
<rect x="1729.89" y="1137.2" width="15.6" height="15.6" fill="#36c622" fill-opacity="0.25" stroke="#36c622" stroke-width="5.3"/>
<rect x="1759.75" y="1132.2" width="15.6" height="15.6" fill="#36c622" fill-opacity="0.25" stroke="#36c622" stroke-width="5.3"/>
<rect x="1789.61" y="1064.2" width="15.6" height="15.6" fill="#36c622" fill-opacity="0.25" stroke="#36c622" stroke-width="5.3"/>
<rect x="1819.47" y="1042.2" width="15.6" height="15.6" fill="#36c622" fill-opacity="0.25" stroke="#36c622" stroke-width="5.3"/>
<rect x="1849.33" y="1154.7" width="15.6" height="15.6" fill="#36c622" fill-opacity="0.25" stroke="#36c622" stroke-width="5.3"/>
<rect x="1879.19" y="1149.7" width="15.6" height="15.6" fill="#36c622" fill-opacity="0.25" stroke="#36c622" stroke-width="5.3"/>
<rect x="1909.05" y="1149.7" width="15.6" height="15.6" fill="#36c622" fill-opacity="0.25" stroke="#36c622" stroke-width="5.3"/>
<rect x="1938.91" y="1156.2" width="15.6" height="15.6" fill="#36c622" fill-opacity="0.25" stroke="#36c622" stroke-width="5.3"/>
<polyline points="184.97,1190 214.83,1245 244.69,1237.5 274.55,1135 304.41,1035.5 334.27,901 364.13,936 393.99,934 423.85,900 453.71,1024.5 483.57,966 513.43,932.5 543.29,983 573.15,867.5 603.01,998 632.87,946.5 662.73,961 692.59,929 722.45,897.5 752.31,965 782.17,1044 812.03,1090 841.89,1117.5 871.75,1097.5 901.61,1226 931.47,1114.5 961.33,1130.5 991.19,1161 1021.05,1182 1050.91,1245 1080.77,1010.5 1110.63,1153 1140.49,1151 1170.35,1149 1200.21,1132.5 1230.07,1130 1259.93,1071 1289.79,1136 1319.65,1171 1349.51,1158 1379.37,1131 1409.23,1126 1439.09,1107.5 1468.95,1167.5 1498.81,1169 1528.67,1155 1558.53,1167.5 1588.39,1181 1618.25,1277.5 1648.11,1154 1677.97,1181 1707.83,1180 1737.69,1150 1767.55,1134 1797.41,1074 1827.27,1041 1857.13,1149 1886.99,1162.5 1916.85,1149 1946.71,1150" fill="none" stroke="#ff5a05" stroke-width="5.6" stroke-linejoin="round" stroke-linecap="round"/>
<path d="M184.97 1178L194.37 1190L184.97 1202L175.57 1190Z" fill="#ff5a05" fill-opacity="0.25" stroke="#ff5a05" stroke-width="5.3" stroke-linejoin="miter"/>
<path d="M214.83 1233L224.23 1245L214.83 1257L205.43 1245Z" fill="#ff5a05" fill-opacity="0.25" stroke="#ff5a05" stroke-width="5.3" stroke-linejoin="miter"/>
<path d="M244.69 1225.5L254.09 1237.5L244.69 1249.5L235.29 1237.5Z" fill="#ff5a05" fill-opacity="0.25" stroke="#ff5a05" stroke-width="5.3" stroke-linejoin="miter"/>
<path d="M274.55 1123L283.95 1135L274.55 1147L265.15 1135Z" fill="#ff5a05" fill-opacity="0.25" stroke="#ff5a05" stroke-width="5.3" stroke-linejoin="miter"/>
<path d="M304.41 1023.5L313.81 1035.5L304.41 1047.5L295.01 1035.5Z" fill="#ff5a05" fill-opacity="0.25" stroke="#ff5a05" stroke-width="5.3" stroke-linejoin="miter"/>
<path d="M334.27 889L343.67 901L334.27 913L324.87 901Z" fill="#ff5a05" fill-opacity="0.25" stroke="#ff5a05" stroke-width="5.3" stroke-linejoin="miter"/>
<path d="M364.13 924L373.53 936L364.13 948L354.73 936Z" fill="#ff5a05" fill-opacity="0.25" stroke="#ff5a05" stroke-width="5.3" stroke-linejoin="miter"/>
<path d="M393.99 922L403.39 934L393.99 946L384.59 934Z" fill="#ff5a05" fill-opacity="0.25" stroke="#ff5a05" stroke-width="5.3" stroke-linejoin="miter"/>
<path d="M423.85 888L433.25 900L423.85 912L414.45 900Z" fill="#ff5a05" fill-opacity="0.25" stroke="#ff5a05" stroke-width="5.3" stroke-linejoin="miter"/>
<path d="M453.71 1012.5L463.11 1024.5L453.71 1036.5L444.31 1024.5Z" fill="#ff5a05" fill-opacity="0.25" stroke="#ff5a05" stroke-width="5.3" stroke-linejoin="miter"/>
<path d="M483.57 954L492.97 966L483.57 978L474.17 966Z" fill="#ff5a05" fill-opacity="0.25" stroke="#ff5a05" stroke-width="5.3" stroke-linejoin="miter"/>
<path d="M513.43 920.5L522.83 932.5L513.43 944.5L504.03 932.5Z" fill="#ff5a05" fill-opacity="0.25" stroke="#ff5a05" stroke-width="5.3" stroke-linejoin="miter"/>
<path d="M543.29 971L552.69 983L543.29 995L533.89 983Z" fill="#ff5a05" fill-opacity="0.25" stroke="#ff5a05" stroke-width="5.3" stroke-linejoin="miter"/>
<path d="M573.15 855.5L582.55 867.5L573.15 879.5L563.75 867.5Z" fill="#ff5a05" fill-opacity="0.25" stroke="#ff5a05" stroke-width="5.3" stroke-linejoin="miter"/>
<path d="M603.01 986L612.41 998L603.01 1010L593.61 998Z" fill="#ff5a05" fill-opacity="0.25" stroke="#ff5a05" stroke-width="5.3" stroke-linejoin="miter"/>
<path d="M632.87 934.5L642.27 946.5L632.87 958.5L623.47 946.5Z" fill="#ff5a05" fill-opacity="0.25" stroke="#ff5a05" stroke-width="5.3" stroke-linejoin="miter"/>
<path d="M662.73 949L672.13 961L662.73 973L653.33 961Z" fill="#ff5a05" fill-opacity="0.25" stroke="#ff5a05" stroke-width="5.3" stroke-linejoin="miter"/>
<path d="M692.59 917L701.99 929L692.59 941L683.19 929Z" fill="#ff5a05" fill-opacity="0.25" stroke="#ff5a05" stroke-width="5.3" stroke-linejoin="miter"/>
<path d="M722.45 885.5L731.85 897.5L722.45 909.5L713.05 897.5Z" fill="#ff5a05" fill-opacity="0.25" stroke="#ff5a05" stroke-width="5.3" stroke-linejoin="miter"/>
<path d="M752.31 953L761.71 965L752.31 977L742.91 965Z" fill="#ff5a05" fill-opacity="0.25" stroke="#ff5a05" stroke-width="5.3" stroke-linejoin="miter"/>
<path d="M782.17 1032L791.57 1044L782.17 1056L772.77 1044Z" fill="#ff5a05" fill-opacity="0.25" stroke="#ff5a05" stroke-width="5.3" stroke-linejoin="miter"/>
<path d="M812.03 1078L821.43 1090L812.03 1102L802.63 1090Z" fill="#ff5a05" fill-opacity="0.25" stroke="#ff5a05" stroke-width="5.3" stroke-linejoin="miter"/>
<path d="M841.89 1105.5L851.29 1117.5L841.89 1129.5L832.49 1117.5Z" fill="#ff5a05" fill-opacity="0.25" stroke="#ff5a05" stroke-width="5.3" stroke-linejoin="miter"/>
<path d="M871.75 1085.5L881.15 1097.5L871.75 1109.5L862.35 1097.5Z" fill="#ff5a05" fill-opacity="0.25" stroke="#ff5a05" stroke-width="5.3" stroke-linejoin="miter"/>
<path d="M901.61 1214L911.01 1226L901.61 1238L892.21 1226Z" fill="#ff5a05" fill-opacity="0.25" stroke="#ff5a05" stroke-width="5.3" stroke-linejoin="miter"/>
<path d="M931.47 1102.5L940.87 1114.5L931.47 1126.5L922.07 1114.5Z" fill="#ff5a05" fill-opacity="0.25" stroke="#ff5a05" stroke-width="5.3" stroke-linejoin="miter"/>
<path d="M961.33 1118.5L970.73 1130.5L961.33 1142.5L951.93 1130.5Z" fill="#ff5a05" fill-opacity="0.25" stroke="#ff5a05" stroke-width="5.3" stroke-linejoin="miter"/>
<path d="M991.19 1149L1000.59 1161L991.19 1173L981.79 1161Z" fill="#ff5a05" fill-opacity="0.25" stroke="#ff5a05" stroke-width="5.3" stroke-linejoin="miter"/>
<path d="M1021.05 1170L1030.45 1182L1021.05 1194L1011.65 1182Z" fill="#ff5a05" fill-opacity="0.25" stroke="#ff5a05" stroke-width="5.3" stroke-linejoin="miter"/>
<path d="M1050.91 1233L1060.31 1245L1050.91 1257L1041.51 1245Z" fill="#ff5a05" fill-opacity="0.25" stroke="#ff5a05" stroke-width="5.3" stroke-linejoin="miter"/>
<path d="M1080.77 998.5L1090.17 1010.5L1080.77 1022.5L1071.37 1010.5Z" fill="#ff5a05" fill-opacity="0.25" stroke="#ff5a05" stroke-width="5.3" stroke-linejoin="miter"/>
<path d="M1110.63 1141L1120.03 1153L1110.63 1165L1101.23 1153Z" fill="#ff5a05" fill-opacity="0.25" stroke="#ff5a05" stroke-width="5.3" stroke-linejoin="miter"/>
<path d="M1140.49 1139L1149.89 1151L1140.49 1163L1131.09 1151Z" fill="#ff5a05" fill-opacity="0.25" stroke="#ff5a05" stroke-width="5.3" stroke-linejoin="miter"/>
<path d="M1170.35 1137L1179.75 1149L1170.35 1161L1160.95 1149Z" fill="#ff5a05" fill-opacity="0.25" stroke="#ff5a05" stroke-width="5.3" stroke-linejoin="miter"/>
<path d="M1200.21 1120.5L1209.61 1132.5L1200.21 1144.5L1190.81 1132.5Z" fill="#ff5a05" fill-opacity="0.25" stroke="#ff5a05" stroke-width="5.3" stroke-linejoin="miter"/>
<path d="M1230.07 1118L1239.47 1130L1230.07 1142L1220.67 1130Z" fill="#ff5a05" fill-opacity="0.25" stroke="#ff5a05" stroke-width="5.3" stroke-linejoin="miter"/>
<path d="M1259.93 1059L1269.33 1071L1259.93 1083L1250.53 1071Z" fill="#ff5a05" fill-opacity="0.25" stroke="#ff5a05" stroke-width="5.3" stroke-linejoin="miter"/>
<path d="M1289.79 1124L1299.19 1136L1289.79 1148L1280.39 1136Z" fill="#ff5a05" fill-opacity="0.25" stroke="#ff5a05" stroke-width="5.3" stroke-linejoin="miter"/>
<path d="M1319.65 1159L1329.05 1171L1319.65 1183L1310.25 1171Z" fill="#ff5a05" fill-opacity="0.25" stroke="#ff5a05" stroke-width="5.3" stroke-linejoin="miter"/>
<path d="M1349.51 1146L1358.91 1158L1349.51 1170L1340.11 1158Z" fill="#ff5a05" fill-opacity="0.25" stroke="#ff5a05" stroke-width="5.3" stroke-linejoin="miter"/>
<path d="M1379.37 1119L1388.77 1131L1379.37 1143L1369.97 1131Z" fill="#ff5a05" fill-opacity="0.25" stroke="#ff5a05" stroke-width="5.3" stroke-linejoin="miter"/>
<path d="M1409.23 1114L1418.63 1126L1409.23 1138L1399.83 1126Z" fill="#ff5a05" fill-opacity="0.25" stroke="#ff5a05" stroke-width="5.3" stroke-linejoin="miter"/>
<path d="M1439.09 1095.5L1448.49 1107.5L1439.09 1119.5L1429.69 1107.5Z" fill="#ff5a05" fill-opacity="0.25" stroke="#ff5a05" stroke-width="5.3" stroke-linejoin="miter"/>
<path d="M1468.95 1155.5L1478.35 1167.5L1468.95 1179.5L1459.55 1167.5Z" fill="#ff5a05" fill-opacity="0.25" stroke="#ff5a05" stroke-width="5.3" stroke-linejoin="miter"/>
<path d="M1498.81 1157L1508.21 1169L1498.81 1181L1489.41 1169Z" fill="#ff5a05" fill-opacity="0.25" stroke="#ff5a05" stroke-width="5.3" stroke-linejoin="miter"/>
<path d="M1528.67 1143L1538.07 1155L1528.67 1167L1519.27 1155Z" fill="#ff5a05" fill-opacity="0.25" stroke="#ff5a05" stroke-width="5.3" stroke-linejoin="miter"/>
<path d="M1558.53 1155.5L1567.93 1167.5L1558.53 1179.5L1549.13 1167.5Z" fill="#ff5a05" fill-opacity="0.25" stroke="#ff5a05" stroke-width="5.3" stroke-linejoin="miter"/>
<path d="M1588.39 1169L1597.79 1181L1588.39 1193L1578.99 1181Z" fill="#ff5a05" fill-opacity="0.25" stroke="#ff5a05" stroke-width="5.3" stroke-linejoin="miter"/>
<path d="M1618.25 1265.5L1627.65 1277.5L1618.25 1289.5L1608.85 1277.5Z" fill="#ff5a05" fill-opacity="0.25" stroke="#ff5a05" stroke-width="5.3" stroke-linejoin="miter"/>
<path d="M1648.11 1142L1657.51 1154L1648.11 1166L1638.71 1154Z" fill="#ff5a05" fill-opacity="0.25" stroke="#ff5a05" stroke-width="5.3" stroke-linejoin="miter"/>
<path d="M1677.97 1169L1687.37 1181L1677.97 1193L1668.57 1181Z" fill="#ff5a05" fill-opacity="0.25" stroke="#ff5a05" stroke-width="5.3" stroke-linejoin="miter"/>
<path d="M1707.83 1168L1717.23 1180L1707.83 1192L1698.43 1180Z" fill="#ff5a05" fill-opacity="0.25" stroke="#ff5a05" stroke-width="5.3" stroke-linejoin="miter"/>
<path d="M1737.69 1138L1747.09 1150L1737.69 1162L1728.29 1150Z" fill="#ff5a05" fill-opacity="0.25" stroke="#ff5a05" stroke-width="5.3" stroke-linejoin="miter"/>
<path d="M1767.55 1122L1776.95 1134L1767.55 1146L1758.15 1134Z" fill="#ff5a05" fill-opacity="0.25" stroke="#ff5a05" stroke-width="5.3" stroke-linejoin="miter"/>
<path d="M1797.41 1062L1806.81 1074L1797.41 1086L1788.01 1074Z" fill="#ff5a05" fill-opacity="0.25" stroke="#ff5a05" stroke-width="5.3" stroke-linejoin="miter"/>
<path d="M1827.27 1029L1836.67 1041L1827.27 1053L1817.87 1041Z" fill="#ff5a05" fill-opacity="0.25" stroke="#ff5a05" stroke-width="5.3" stroke-linejoin="miter"/>
<path d="M1857.13 1137L1866.53 1149L1857.13 1161L1847.73 1149Z" fill="#ff5a05" fill-opacity="0.25" stroke="#ff5a05" stroke-width="5.3" stroke-linejoin="miter"/>
<path d="M1886.99 1150.5L1896.39 1162.5L1886.99 1174.5L1877.59 1162.5Z" fill="#ff5a05" fill-opacity="0.25" stroke="#ff5a05" stroke-width="5.3" stroke-linejoin="miter"/>
<path d="M1916.85 1137L1926.25 1149L1916.85 1161L1907.45 1149Z" fill="#ff5a05" fill-opacity="0.25" stroke="#ff5a05" stroke-width="5.3" stroke-linejoin="miter"/>
<path d="M1946.71 1138L1956.11 1150L1946.71 1162L1937.31 1150Z" fill="#ff5a05" fill-opacity="0.25" stroke="#ff5a05" stroke-width="5.3" stroke-linejoin="miter"/>
</g>
<g id="dir-legend">
<rect x="1433.5" y="797" width="508.79999999999995" height="109.8" fill="#ffffff" stroke="#858585" stroke-width="4.5"/>
<line x1="1431.3" y1="909" x2="1944.5" y2="909" stroke="#b2b2b2" stroke-width="9"/>
<line x1="1429.1" y1="797" x2="1429.1" y2="906.8" stroke="#dcdcdc" stroke-width="4.5"/>
<line x1="1442" y1="826.3" x2="1546" y2="826.3" stroke="#36c622" stroke-width="5.6"/>
<rect x="1486.2" y="818.5" width="15.6" height="15.6" fill="#36c622" fill-opacity="0.25" stroke="#36c622" stroke-width="5.3"/>
<line x1="1442" y1="880.5" x2="1546" y2="880.5" stroke="#ff5a05" stroke-width="5.6"/>
<path d="M1494 868.5L1503.4 880.5L1494 892.5L1484.6 880.5Z" fill="#ff5a05" fill-opacity="0.25" stroke="#ff5a05" stroke-width="5.3" stroke-linejoin="miter"/>
<g font-weight="bold" fill="#101010">
<text x="1555.5" y="843.5" font-size="44" text-anchor="start" textLength="375" lengthAdjust="spacingAndGlyphs">KC-WL-2006 Lidar</text>
<text x="1555.5" y="894.5" font-size="44" text-anchor="start" textLength="375" lengthAdjust="spacingAndGlyphs">The reference Lidar</text>
</g>
</g>
<g id="dir-labels" font-weight="bold" fill="#262626">
<text x="176.2" y="1340" font-size="49.5" text-anchor="middle">0</text>
<text x="475.5" y="1340" font-size="49.5" text-anchor="middle">500</text>
<text x="776.5" y="1340" font-size="49.5" text-anchor="middle">1000</text>
<text x="1073" y="1340" font-size="49.5" text-anchor="middle">1500</text>
<text x="1373.2" y="1340" font-size="49.5" text-anchor="middle">2000</text>
<text x="1673" y="1340" font-size="49.5" text-anchor="middle">2500</text>
<text x="1970.5" y="1340" font-size="49.5" text-anchor="middle">3000</text>
<text x="161" y="786" font-size="49.5" text-anchor="end" textLength="71.5" lengthAdjust="spacingAndGlyphs">300</text>
<text x="161" y="941" font-size="49.5" text-anchor="end" textLength="71.5" lengthAdjust="spacingAndGlyphs">250</text>
<text x="161" y="1098" font-size="49.5" text-anchor="end" textLength="71.5" lengthAdjust="spacingAndGlyphs">200</text>
<text x="161" y="1256.5" font-size="49.5" text-anchor="end" textLength="71.5" lengthAdjust="spacingAndGlyphs">150</text>
<text x="1075" y="1403.5" font-size="52" text-anchor="middle" textLength="249" lengthAdjust="spacingAndGlyphs">Height (m)</text>
<text transform="translate(64.5 1021) rotate(-90)" font-size="52" text-anchor="middle" textLength="474" lengthAdjust="spacingAndGlyphs">Average direction (°)</text>
</g>
</svg>
</body>
</html>
